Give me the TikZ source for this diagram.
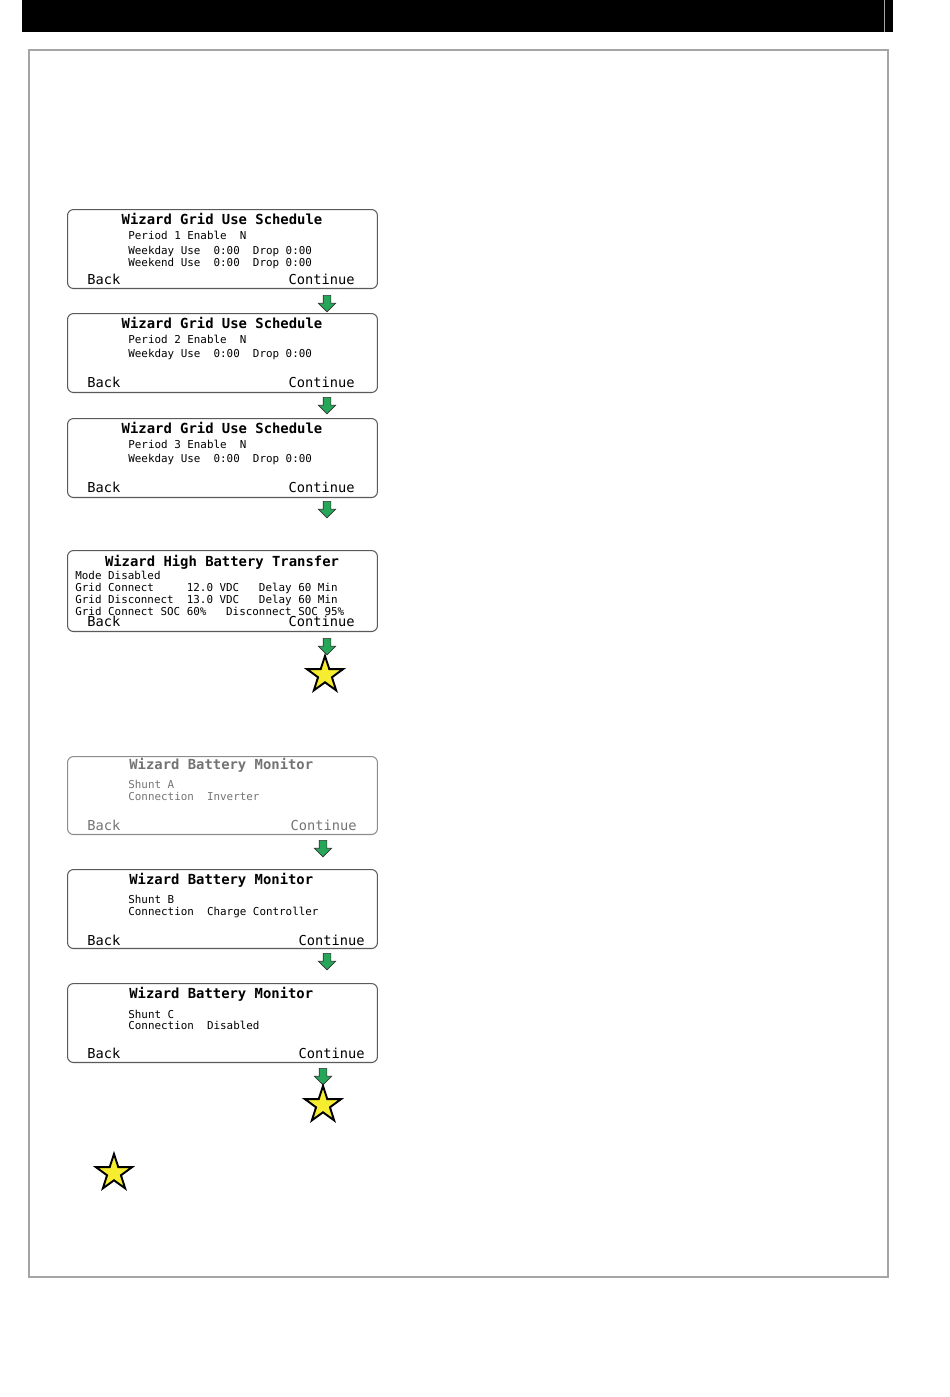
\documentclass[tikz,border=0pt]{standalone}
\usepackage{fontspec}
\usepackage{tikz}
\usetikzlibrary{positioning,shapes.geometric,shapes.arrows}
\newfontfamily\lcd{DejaVu Sans Mono}
\definecolor{ArrowGreen}{RGB}{38,166,88}
\definecolor{StarYellow}{RGB}{246,236,48}
\definecolor{FrameGray}{RGB}{165,165,165}
\definecolor{ScreenLine}{RGB}{90,90,90}

\begin{document}
\begin{tikzpicture}[x=0.02cm, y=-0.02cm,
    screen/.style={rectangle, rounded corners=1.2mm, draw=ScreenLine, line width=0.6pt,
        minimum width=6.2cm, minimum height=1.58cm, anchor=north west, inner sep=0pt},
    title/.style={font=\lcd\bfseries\fontsize{7.9}{9}\selectfont, inner sep=0pt, yshift=-0.3mm},
    info/.style={font=\lcd\fontsize{6.2}{7}\selectfont, anchor=mid west, inner sep=0pt, yshift=-0.25mm},
    btn/.style={font=\lcd\fontsize{7.8}{9}\selectfont, inner sep=0pt, yshift=-0.35mm},
    faded/.style={text=black!55},
    down/.style={single arrow, shape border rotate=270, fill=ArrowGreen, draw=black!80,
        line width=0.4pt, inner sep=0.7mm, minimum height=3.3mm, minimum width=3.3mm,
        single arrow head extend=0.95mm, anchor=north},
    star5/.style={star, star points=5, star point ratio=2.6, fill=StarYellow, draw=black,
        line width=1.1pt, minimum size=7.6mm, inner sep=0pt},
]
\useasboundingbox (0,0) rectangle (950,1397);

% page header and frame
\fill[black] (22,0) rectangle (893,32);
\draw[FrameGray, line width=0.3pt] (884,0) -- (884,32);
\draw[FrameGray, line width=0.8pt] (29,50) rectangle (888,1277);

% grid use schedule
\node[screen] (s1) at (67,209) {};
\node[title] (t1) at (222,217) {Wizard Grid Use Schedule};
\node[info] (p1) at (128,234) {Period 1 Enable~~N};
\node[info] (w1) at (128,249) {Weekday Use~~0:00~~Drop 0:00};
\node[info] (e1) at (128,261) {Weekend Use~~0:00~~Drop 0:00};
\node[btn, anchor=mid west] (b1) at (87,279) {Back};
\node[btn, anchor=mid east] (c1) at (355,279) {Continue};
\node[down] (a1) at (327,295) {};

\node[screen] (s2) at (67,313) {};
\node[title] (t2) at (222,321) {Wizard Grid Use Schedule};
\node[info] (p2) at (128,338) {Period 2 Enable~~N};
\node[info] (w2) at (128,352) {Weekday Use~~0:00~~Drop 0:00};
\node[btn, anchor=mid west] (b2) at (87,382) {Back};
\node[btn, anchor=mid east] (c2) at (355,382) {Continue};
\node[down] (a2) at (327,397) {};

\node[screen] (s3) at (67,418) {};
\node[title] (t3) at (222,426) {Wizard Grid Use Schedule};
\node[info] (p3) at (128,443) {Period 3 Enable~~N};
\node[info] (w3) at (128,457) {Weekday Use~~0:00~~Drop 0:00};
\node[btn, anchor=mid west] (b3) at (87,487) {Back};
\node[btn, anchor=mid east] (c3) at (355,487) {Continue};
\node[down] (a3) at (327,501) {};

% high battery transfer
\node[screen, minimum height=1.62cm] (s4) at (67,550) {};
\node[title] (t4) at (222,561) {Wizard High Battery Transfer};
\node[info] (m4) at (75,574) {Mode Disabled};
\node[info] (g4) at (75,586) {Grid Connect~~~~~12.0 VDC~~~Delay 60 Min};
\node[info] (d4) at (75,598) {Grid Disconnect~~13.0 VDC~~~Delay 60 Min};
\node[info] (o4) at (75,610) {Grid Connect SOC 60\%~~~Disconnect SOC 95\%};
\node[btn, anchor=mid west] (b4) at (87,621) {Back};
\node[btn, anchor=mid east] (c4) at (355,621) {Continue};
\node[down] (a4) at (327,638) {};
\node[star5] (st1) at (325,675) {};

% battery monitor
\node[screen, draw=black!45, minimum height=1.56cm] (s5) at (67,756) {};
\node[title, faded, anchor=mid west] (t5) at (129,764) {Wizard Battery Monitor};
\node[info, faded] (h5) at (128,783) {Shunt A};
\node[info, faded] (n5) at (128,795) {Connection~~Inverter};
\node[btn, faded, anchor=mid west] (b5) at (87,825) {Back};
\node[btn, faded, anchor=mid east] (c5) at (357,825) {Continue};
\node[down] (a5) at (323,840) {};

\node[screen] (s6) at (67,869) {};
\node[title, anchor=mid west] (t6) at (129,879) {Wizard Battery Monitor};
\node[info] (h6) at (128,898) {Shunt B};
\node[info] (n6) at (128,910) {Connection~~Charge Controller};
\node[btn, anchor=mid west] (b6) at (87,940) {Back};
\node[btn, anchor=mid east] (c6) at (365,940) {Continue};
\node[down] (a6) at (327,953) {};

\node[screen] (s7) at (67,983) {};
\node[title, anchor=mid west] (t7) at (129,993) {Wizard Battery Monitor};
\node[info] (h7) at (128,1013) {Shunt C};
\node[info] (n7) at (128,1024) {Connection~~Disabled};
\node[btn, anchor=mid west] (b7) at (87,1053) {Back};
\node[btn, anchor=mid east] (c7) at (365,1053) {Continue};
\node[down] (a7) at (323,1068) {};
\node[star5] (st2) at (323,1105) {};

\node[star5] (st3) at (114,1173) {};
\end{tikzpicture}
\end{document}
